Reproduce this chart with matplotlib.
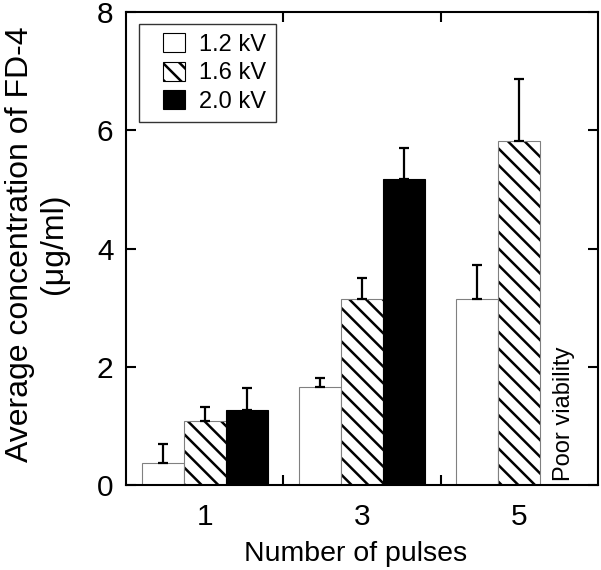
import numpy as np
import matplotlib
matplotlib.use("Agg")
from matplotlib import pyplot as plt
from matplotlib.patches import Patch, Rectangle
from matplotlib.legend_handler import HandlerPatch

plt.rcParams['font.family'] = ['Liberation Sans', 'DejaVu Sans']
plt.rcParams['hatch.linewidth'] = 1.8

pulses = ['1', '3', '5']
labels = ['1.2 kV', '1.6 kV', '2.0 kV']
# mean values per voltage (2.0 kV at 5 pulses: poor viability, no bar)
kv12 = [0.38, 1.65, 3.15]
kv16 = [1.09, 3.14, 5.81]
kv20 = [1.27, 5.17, np.nan]
# upper error bars
err12 = [0.31, 0.16, 0.57]
err16 = [0.23, 0.36, 1.05]
err20 = [0.37, 0.53, np.nan]

fig = plt.figure(figsize=(6.01, 5.70), dpi=100)
ax = fig.add_axes([126 / 601, 85 / 570, 472 / 601, 473 / 570])

x = np.arange(len(pulses))
w = 0.267
styles = [
    dict(color='white', edgecolor='#808080', linewidth=0.8),
    dict(color='white', edgecolor='#808080', linewidth=0.8, hatch='\\\\'),
    dict(color='black', edgecolor='black', linewidth=0.8),
]
series = [kv12, kv16, kv20]
errs = [err12, err16, err20]

for i, (vals, err, st) in enumerate(zip(series, errs, styles)):
    pos = x + (i - 1) * w
    ax.bar(pos, vals, w, **st)
    lower = np.zeros(len(err))
    ax.errorbar(pos, vals, yerr=[lower, err], fmt='none', ecolor='black',
                elinewidth=1.6, capsize=3.5, capthick=1.6)

# hatch lines black, outline stays grey
for p in ax.patches:
    if p.get_hatch():
        p._hatch_color = (0, 0, 0, 1)

ax.text(2.284, 0.07, 'Poor viability', rotation=90, ha='center',
        va='bottom', fontsize=17)

ax.set_xlim(-0.5, 2.5)
ax.set_ylim(0, 8)
ax.set_xticks(x)
ax.set_xticklabels(pulses)
ax.set_xticks([0.5, 1.5], minor=True)
ax.set_yticks([0, 2, 4, 6, 8])
ax.tick_params(axis='x', which='major', length=0, pad=13, labelsize=21.5)
ax.tick_params(axis='x', which='minor', direction='in', length=7, width=1.5,
               top=True, bottom=True)
ax.tick_params(axis='y', which='major', direction='in', length=7, width=1.5,
               right=True, labelsize=21.5, pad=9)
for s in ax.spines.values():
    s.set_linewidth(1.5)

ax.set_xlabel('Number of pulses', fontsize=20.5)
ax.xaxis.set_label_coords(0.486, -0.118)
ax.set_ylabel('Average concentration of FD-4\n(\u03bcg/ml)', fontsize=23,
              linespacing=1.15)
ax.yaxis.label.set_va('center')
ax.yaxis.set_label_coords(-0.189, 0.51)


def offset_box(legend, orig_handle, xdescent, ydescent, width, height, fontsize):
    # square sits on the right side of the handle area
    bw = 15.8
    return Rectangle((width - xdescent - bw, -ydescent), bw, height)


handles = [Patch(facecolor='white', edgecolor='black', linewidth=0.8),
           Patch(facecolor='white', edgecolor='black', linewidth=0.8, hatch='\\\\'),
           Patch(facecolor='black', edgecolor='black', linewidth=0.8)]
leg = ax.legend(handles, labels, loc='upper left', fontsize=17,
                bbox_to_anchor=(0.0275, 0.975), frameon=True, fancybox=False,
                edgecolor='black', handlelength=1.55, handleheight=0.85,
                labelspacing=0.25, handletextpad=0.6, borderpad=0.4,
                borderaxespad=0,
                handler_map={Patch: HandlerPatch(patch_func=offset_box)})
leg.get_frame().set_linewidth(1.0)

fig.savefig('out.png', dpi=100)
